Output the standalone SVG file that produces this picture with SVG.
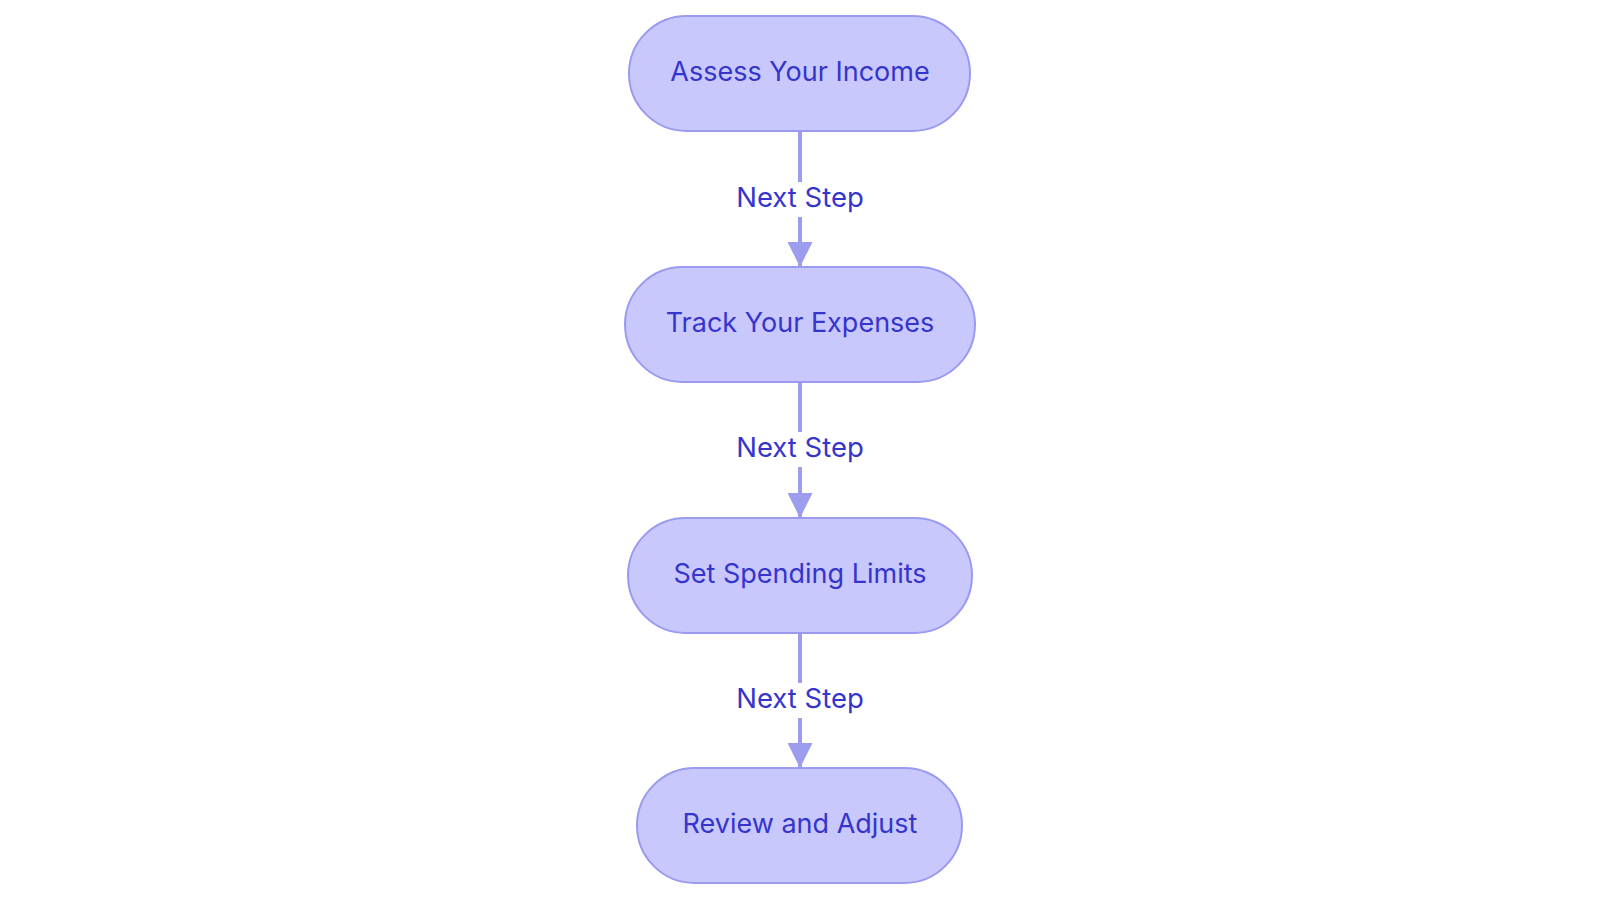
<svg xmlns="http://www.w3.org/2000/svg" width="1600" height="903" viewBox="0 0 1600 903">
<style>
.node rect{fill:#c8c8fc;stroke:#9a9af0;stroke-width:2}
.node text{font-family:Inter,"Open Sans","DejaVu Sans",sans-serif;font-size:27px;fill:#3535cc;text-anchor:middle}
.edge line{stroke:#9d9df0;stroke-width:4}
.lbl rect{fill:#ffffff}
.lbl text{font-family:Inter,"Open Sans","DejaVu Sans",sans-serif;font-size:27.5px;fill:#3535cc;text-anchor:middle}
</style>
<defs>
<marker id="arr" viewBox="0 0 25 25" refX="25" refY="12.5" markerWidth="25" markerHeight="25" markerUnits="userSpaceOnUse" orient="auto">
<path d="M0,0 L25,12.5 L0,25 Z" fill="#9d9df0"/>
</marker>
</defs>
<rect width="1600" height="903" fill="#ffffff"/>
<g id="connectors">
<g class="edge"><line x1="800" y1="132" x2="800" y2="267" marker-end="url(#arr)"/></g>
<g class="edge"><line x1="800" y1="383" x2="800" y2="518" marker-end="url(#arr)"/></g>
<g class="edge"><line x1="800" y1="634" x2="800" y2="768" marker-end="url(#arr)"/></g>
<g class="lbl"><rect x="731" y="182" width="138" height="35"/><text x="800" y="207">Next Step</text></g>
<g class="lbl"><rect x="731" y="432" width="138" height="35"/><text x="800" y="457">Next Step</text></g>
<g class="lbl"><rect x="731" y="683" width="138" height="35"/><text x="800" y="708">Next Step</text></g>
</g>
<g id="node1" class="node"><rect x="629" y="16" width="341" height="115" rx="57.5"/><text x="800" y="81">Assess Your Income</text></g>
<g id="node2" class="node"><rect x="625" y="267" width="350" height="115" rx="57.5"/><text x="800" y="332">Track Your Expenses</text></g>
<g id="node3" class="node"><rect x="628" y="518" width="344" height="115" rx="57.5"/><text x="800" y="583">Set Spending Limits</text></g>
<g id="node4" class="node"><rect x="637" y="768" width="325" height="115" rx="57.5"/><text x="800" y="833">Review and Adjust</text></g>
</svg>
